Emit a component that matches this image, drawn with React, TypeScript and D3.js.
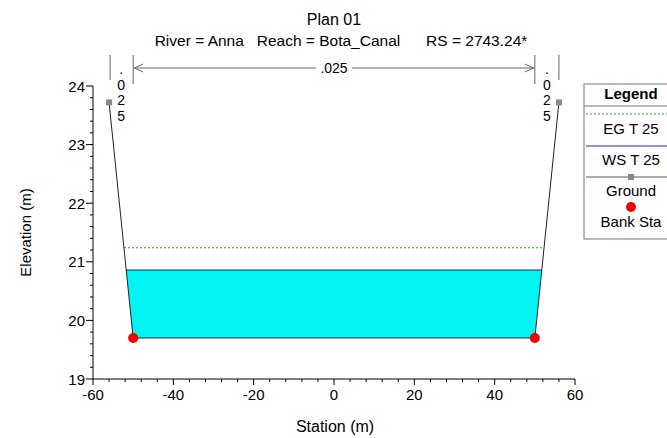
import React, { useEffect, useRef } from "react";
import * as d3 from "d3";

// cross section data (station, elevation)
const groundStation = [-56, -50, 50, 56];
const groundElev = [23.72, 19.7, 19.7, 23.72];
const bankStations = [-50, 50];
const wsElev = 20.86;
const egElev = 21.24;
const nValues = [".025", ".025", ".025"];
const nBreaks = [-56, -50, 50, 56];
const xTicks = [-60, -40, -20, 0, 20, 40, 60];
const yTicks = [19, 20, 21, 22, 23, 24];
const legendItems = ["EG T 25", "WS T 25", "Ground", "Bank Sta"];

const FONT = "Liberation Sans, Arial, sans-serif";

// find where a horizontal level crosses the ground on each side
function crossings(level: number) {
  const pts: number[] = [];
  for (let i = 0; i < groundStation.length - 1; i++) {
    const e1 = groundElev[i], e2 = groundElev[i + 1];
    if ((e1 - level) * (e2 - level) < 0) {
      const t = (level - e1) / (e2 - e1);
      pts.push(groundStation[i] + t * (groundStation[i + 1] - groundStation[i]));
    }
  }
  return pts;
}

export default function App() {
  const ref = useRef<SVGSVGElement>(null);

  useEffect(() => {
    const svg = d3.select(ref.current);
    svg.selectAll("*").remove();

    const x = d3.scaleLinear().domain([-60, 60]).range([93, 575]);
    const y = d3.scaleLinear().domain([19, 24]).range([379, 86]);

    // titles
    svg.append("text").attr("x", 334).attr("y", 25).attr("text-anchor", "middle")
      .style("font", `16px ${FONT}`).text("Plan 01");
    svg.append("text").attr("x", 341).attr("y", 46).attr("text-anchor", "middle")
      .style("font", `15.5px ${FONT}`).style("white-space", "pre")
      .text("River = Anna   Reach = Bota_Canal      RS = 2743.24*");

    // water fill
    const [wl, wr] = crossings(wsElev);
    const waterPts: [number, number][] = [[wl, wsElev]];
    groundStation.forEach((s, i) => {
      if (groundElev[i] < wsElev) waterPts.push([s, groundElev[i]]);
    });
    waterPts.push([wr, wsElev]);
    svg.append("path")
      .attr("d", d3.line<[number, number]>().x(d => x(d[0])).y(d => y(d[1]))(waterPts) + "Z")
      .attr("fill", "#00f4f4").attr("stroke", "none");

    // WS line
    svg.append("line").attr("x1", x(wl)).attr("x2", x(wr)).attr("y1", y(wsElev)).attr("y2", y(wsElev))
      .attr("stroke", "#1c2a6a").attr("stroke-width", 1);

    // EG line
    const [el, er] = crossings(egElev);
    svg.append("line").attr("x1", x(el)).attr("x2", x(er)).attr("y1", y(egElev)).attr("y2", y(egElev))
      .attr("stroke", "#2e9e2e").attr("stroke-width", 1).attr("stroke-dasharray", "2,2");

    // ground
    svg.append("path")
      .attr("d", d3.line<number>().x(d => x(d)).y((d, i) => y(groundElev[i]))(groundStation) as string)
      .attr("fill", "none").attr("stroke", "#222").attr("stroke-width", 1);
    [0, groundStation.length - 1].forEach(i => {
      svg.append("rect").attr("x", x(groundStation[i]) - 3).attr("y", y(groundElev[i]) - 3)
        .attr("width", 6).attr("height", 6).attr("fill", "#888");
    });

    // bank stations
    bankStations.forEach(b => {
      const e = groundElev[groundStation.indexOf(b)];
      svg.append("circle").attr("cx", x(b)).attr("cy", y(e)).attr("r", 5).attr("fill", "#f00000");
    });

    // manning's n breaks
    const nTop = 55;
    nBreaks.forEach((b, i) => {
      const inner = i === 1 || i === 2;
      svg.append("line").attr("x1", x(b) + (i === 0 ? 1 : 0)).attr("x2", x(b) + (i === 0 ? 1 : 0))
        .attr("y1", nTop).attr("y2", inner ? 84 : 80)
        .attr("stroke", "#666").attr("stroke-width", 1);
    });
    // main channel arrow
    const ay = 68;
    const ax1 = x(nBreaks[1]) + 1, ax2 = x(nBreaks[2]) - 1;
    svg.append("line").attr("x1", ax1).attr("x2", ax2).attr("y1", ay).attr("y2", ay)
      .attr("stroke", "#666").attr("stroke-width", 1);
    svg.append("path").attr("d", `M${ax1 + 9},${ay - 4}L${ax1},${ay}L${ax1 + 9},${ay + 4}`)
      .attr("fill", "none").attr("stroke", "#666");
    svg.append("path").attr("d", `M${ax2 - 9},${ay - 4}L${ax2},${ay}L${ax2 - 9},${ay + 4}`)
      .attr("fill", "none").attr("stroke", "#666");
    const mid = (x(nBreaks[1]) + x(nBreaks[2])) / 2;
    svg.append("rect").attr("x", mid - 18).attr("y", ay - 6).attr("width", 36).attr("height", 12).attr("fill", "white");
    svg.append("text").attr("x", mid).attr("y", ay + 5).attr("text-anchor", "middle")
      .style("font", `14px ${FONT}`).text(nValues[1]);
    // overbank n labels, written vertically
    [0, 2].forEach(k => {
      const cx = (x(nBreaks[k === 0 ? 0 : 2]) + x(nBreaks[k === 0 ? 1 : 3])) / 2;
      nValues[k].split("").forEach((ch, j) => {
        svg.append("text").attr("x", cx).attr("y", 74 + j * 15.5).attr("text-anchor", "middle")
          .style("font", `14px ${FONT}`).text(ch);
      });
    });

    // axes
    const gx = svg.append("g").attr("transform", `translate(0,${y(19)})`);
    gx.append("line").attr("x1", x(-60)).attr("x2", x(60)).attr("stroke", "#000");
    d3.range(-60, 60.1, 4).forEach(v => {
      const major = xTicks.includes(v);
      gx.append("line").attr("x1", x(v)).attr("x2", x(v)).attr("y1", 0).attr("y2", major ? 6 : 3).attr("stroke", "#000");
    });
    xTicks.forEach(v => {
      gx.append("text").attr("x", x(v)).attr("y", 21).attr("text-anchor", "middle")
        .style("font", `15px ${FONT}`).text(String(v));
    });

    const gy = svg.append("g").attr("transform", `translate(${x(-60)},0)`);
    gy.append("line").attr("y1", y(19)).attr("y2", y(24)).attr("stroke", "#000");
    d3.range(19, 24.01, 0.2).forEach(v => {
      const major = Math.abs(v - Math.round(v)) < 1e-6;
      gy.append("line").attr("y1", y(v)).attr("y2", y(v)).attr("x1", 0).attr("x2", major ? -7 : -3).attr("stroke", "#000");
    });
    yTicks.forEach(v => {
      gy.append("text").attr("x", -8).attr("y", y(v) + 5.5).attr("text-anchor", "end")
        .style("font", `15px ${FONT}`).text(String(v));
    });

    svg.append("text").attr("x", 335).attr("y", 432).attr("text-anchor", "middle")
      .style("font", `16px ${FONT}`).text("Station (m)");
    svg.append("text").attr("transform", `translate(31,${(y(19) + y(24)) / 2}) rotate(-90)`)
      .attr("text-anchor", "middle").style("font", `15px ${FONT}`).text("Elevation (m)");

    // legend
    const lg = svg.append("g").attr("transform", "translate(584,84)");
    lg.append("rect").attr("width", 100).attr("height", 155).attr("fill", "white").attr("stroke", "#777");
    lg.append("text").attr("x", 47).attr("y", 15).attr("text-anchor", "middle")
      .style("font", `bold 15px ${FONT}`).text("Legend");
    lg.append("line").attr("x1", 0).attr("x2", 100).attr("y1", 22).attr("y2", 22).attr("stroke", "#777");
    lg.append("line").attr("x1", 2).attr("x2", 100).attr("y1", 30).attr("y2", 30)
      .attr("stroke", "#2e9e2e").attr("stroke-dasharray", "2,2");
    lg.append("line").attr("x1", 2).attr("x2", 100).attr("y1", 62).attr("y2", 62).attr("stroke", "#2a2aa0");
    lg.append("line").attr("x1", 2).attr("x2", 100).attr("y1", 93).attr("y2", 93).attr("stroke", "#555");
    lg.append("rect").attr("x", 44).attr("y", 90).attr("width", 6).attr("height", 6).attr("fill", "#888");
    lg.append("circle").attr("cx", 47).attr("cy", 123).attr("r", 5).attr("fill", "#f00000");
    const labelY = [50, 81, 112, 143];
    legendItems.forEach((t, i) => {
      lg.append("text").attr("x", 47).attr("y", labelY[i]).attr("text-anchor", "middle")
        .style("font", `15px ${FONT}`).text(t);
    });
  }, []);

  return (
    <svg ref={ref} width={667} height={438}
      style={{ position: "absolute", left: 0, top: 0, background: "white" }} />
  );
}
